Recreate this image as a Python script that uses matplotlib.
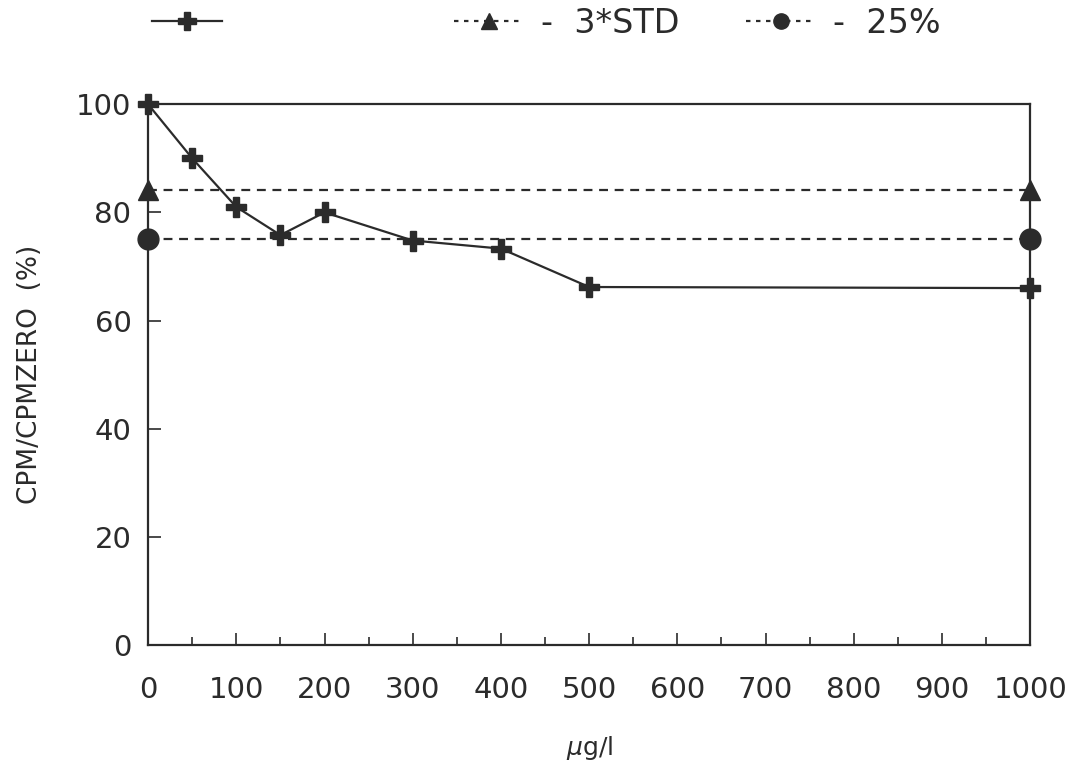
import numpy as np
import matplotlib
matplotlib.use("Agg")
import matplotlib.pyplot as plt
from matplotlib.lines import Line2D

# data
conc = [0, 50, 100, 150, 200, 300, 400, 500, 1000]
ratio = [100, 90, 81, 75.8, 80, 74.8, 73.3, 66.2, 66]
std_x = [0, 1000]
std_y = [84.2, 84.2]
pct_x = [0, 1000]
pct_y = [75, 75]
xticks = list(range(0, 1001, 100))
yticks = list(range(0, 101, 20))

ink = "#2b2b2b"
plt.rcParams["font.family"] = ["DejaVu Sans"]

fig = plt.figure(figsize=(10.81, 7.78), dpi=100)
ax = fig.add_axes([0.137, 0.171, 0.816, 0.695])

ax.plot(conc, ratio, color=ink, lw=1.6, marker="P", ms=14, mec=ink, mfc=ink,
        clip_on=False, zorder=4)
ax.plot(std_x, std_y, color=ink, lw=1.6, ls=(0, (4, 3)), marker="^", ms=14,
        mec=ink, mfc=ink, clip_on=False, zorder=3)
ax.plot(pct_x, pct_y, color=ink, lw=1.6, ls=(0, (4, 3)), marker="o", ms=15,
        mec=ink, mfc=ink, clip_on=False, zorder=3)

ax.set_xlim(0, 1000)
ax.set_ylim(0, 100)
ax.set_xticks(xticks)
ax.set_xticks(range(50, 1000, 100), minor=True)
ax.set_yticks(yticks)
ax.tick_params(axis="both", which="major", direction="in", length=9, width=1.2,
               labelsize=21, colors=ink)
ax.tick_params(axis="x", which="major", pad=22)
ax.tick_params(axis="y", which="major", pad=12)
ax.tick_params(axis="x", which="minor", direction="in", length=6, width=1.2, colors=ink)
for s in ax.spines.values():
    s.set_linewidth(1.6)
    s.set_color(ink)

ax.set_ylabel("CPM/CPMZERO  (%)", fontsize=19, color=ink, labelpad=24)
ax.set_xlabel("$\\mu$g/l", fontsize=18, color=ink, labelpad=22)

handles = [
    Line2D([], [], color=ink, lw=1.6, marker="P", ms=13, mfc=ink, mec=ink),
    Line2D([], [], color=ink, lw=1.6, ls=(0, (2, 2.5)), marker="^", ms=11, mfc=ink, mec=ink),
    Line2D([], [], color=ink, lw=1.6, ls=(0, (2, 2.5)), marker="o", ms=11, mfc=ink, mec=ink),
]
labels = [" " * 14, "-  3*STD", "-  25%"]
fig.legend(handles, labels, loc="upper left", bbox_to_anchor=(0.113, 1.03), ncol=3,
           frameon=False, fontsize=24, handlelength=2.1, handletextpad=0.5,
           columnspacing=2.0, labelcolor=ink)

fig.savefig("out.png", dpi=100)
